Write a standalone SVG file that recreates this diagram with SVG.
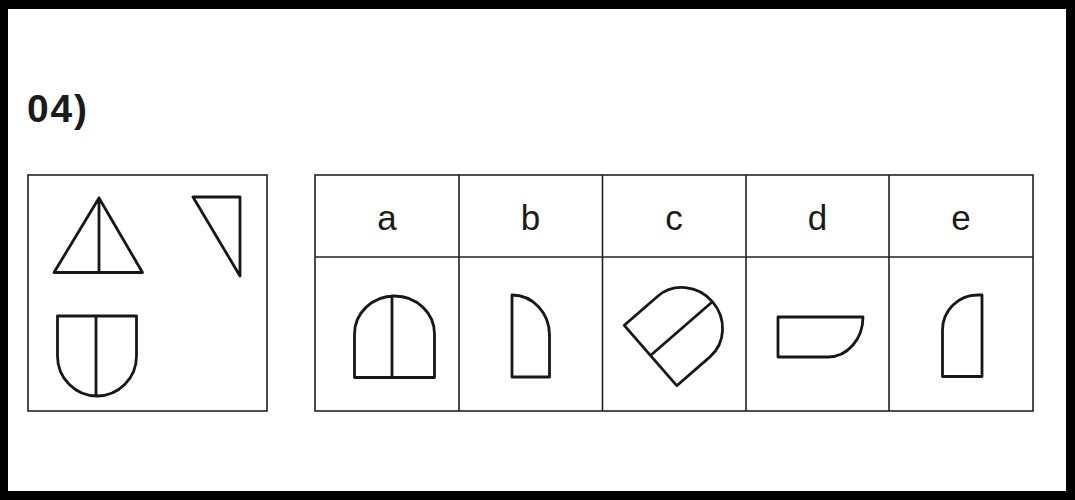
<svg xmlns="http://www.w3.org/2000/svg" width="1075" height="500" viewBox="0 0 1075 500">
<style>
.frame{fill:#fff;stroke:none}
.box{fill:none;stroke:#1e221e;stroke-width:1.6}
.shape{fill:none;stroke:#151815;stroke-width:2.8;stroke-linejoin:round;stroke-linecap:round}
.title{font-family:"Liberation Sans",Arial,sans-serif;font-weight:bold;font-size:39px;letter-spacing:1.8px;fill:#1a1c1a}
.lbl{font-family:"Liberation Sans",Arial,sans-serif;font-size:35px;fill:#1a1c1a;text-anchor:middle}
</style>
<rect x="0" y="0" width="1075" height="500" fill="#000"/>
<rect class="frame" x="8" y="9" width="1058" height="482"/>
<text id="title" class="title" x="27" y="122">04)</text>
<g id="question">
<rect class="box" x="28" y="175" width="239" height="236"/>
<g id="q-triangle">
<path class="shape" d="M99,198 L54,272.5 L142.5,272.5 Z M99,198 L99,272.5"/>
</g>
<g id="q-right-triangle">
<path class="shape" d="M193,197 L240,197 L240,276 Z"/>
</g>
<g id="q-shield">
<path class="shape" d="M57.5,316 L136.5,316 L136.5,356 A39.5,40 0 0 1 57.5,356 Z M96,316 L96,396"/>
</g>
</g>
<g id="options">
<rect class="box" x="315" y="175" width="718" height="236"/>
<line class="box" x1="315" y1="257" x2="1033" y2="257"/>
<line class="box" x1="459" y1="175" x2="459" y2="411"/>
<line class="box" x1="602.5" y1="175" x2="602.5" y2="411"/>
<line class="box" x1="746" y1="175" x2="746" y2="411"/>
<line class="box" x1="889" y1="175" x2="889" y2="411"/>
<text class="lbl" x="387" y="230">a</text>
<text class="lbl" x="530.5" y="230">b</text>
<text class="lbl" x="674" y="230">c</text>
<text class="lbl" x="817.5" y="230">d</text>
<text class="lbl" x="961" y="230">e</text>
<g id="opt-a">
<path class="shape" d="M354.5,377.5 L354.5,334 A40,38 0 0 1 434.5,334 L434.5,377.5 Z M392,296 L392,377.5"/>
</g>
<g id="opt-b">
<path class="shape" d="M512,295 A37.5,40 0 0 1 549.5,335 L549.5,377 L512,377 Z"/>
</g>
<g id="opt-c">
<path class="shape" transform="translate(650.5,355.5) rotate(49)" d="M-40,0 L40,0 L40,-44 A40,38 0 0 0 -40,-44 Z M0,0 L0,-82"/>
</g>
<g id="opt-d">
<path class="shape" d="M778,317 L863,317 A35,40 0 0 1 828,357 L778,357 Z"/>
</g>
<g id="opt-e">
<path class="shape" d="M942.5,376.5 L942.5,330 A35,35 0 0 1 977.5,295 L982,295 L982,376.5 Z"/>
</g>
</g>
</svg>
